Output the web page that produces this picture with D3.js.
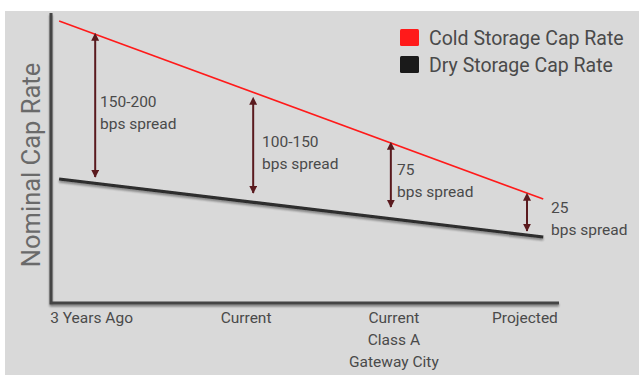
<!DOCTYPE html>
<html>
<head>
<meta charset="utf-8">
<script src="https://cdn.jsdelivr.net/npm/d3@7"></script>
<style>
  html, body { margin: 0; padding: 0; background: #ffffff; }
  svg { display: block; }
  text { font-family: Roboto, "Liberation Sans", Arial, sans-serif; }
</style>
</head>
<body>
<div id="chart"></div>
<script>
// Timeline positions along the x axis (0 = axis origin, 100 = axis end)
const categories = ["3 Years Ago", "Current", "Current\nClass A\nGateway City", "Projected"];
const categoryPos = [8, 38.4, 67.5, 93.3];

// Cap rate lines (%), given at the start and end of the timeline
const lineT = [1.6, 96.9];
const coldRates = [8.84, 5.28];
const dryRates = [5.68, 4.52];

// Spread call-outs: position and the cap-rate span each arrow covers
const spreadPos = [8.7, 39.8, 66.9, 93.7];
const arrowTop = [8.46, 7.18, 6.28, 5.26];
const arrowBottom = [5.72, 5.40, 5.12, 4.64];
const spreadTop = ["150-200", "100-150", "75", "25"];
const spreadBottom = ["bps spread", "bps spread", "bps spread", "bps spread"];

const seriesNames = ["Cold Storage Cap Rate", "Dry Storage Cap Rate"];
const seriesColors = ["#ff1a1a", "#1a1a1a"];

const W = 639, H = 375;
const svg = d3.select("#chart").append("svg").attr("width", W).attr("height", H);

const defs = svg.append("defs");
const shadow = defs.append("filter").attr("id", "shadow")
  .attr("x", "-5%").attr("y", "-50%").attr("width", "110%").attr("height", "300%");
shadow.append("feGaussianBlur").attr("in", "SourceAlpha").attr("stdDeviation", 1.2).attr("result", "b");
shadow.append("feOffset").attr("in", "b").attr("dx", 0).attr("dy", 2).attr("result", "o");
shadow.append("feComponentTransfer").attr("in", "o").attr("result", "s")
  .append("feFuncA").attr("type", "linear").attr("slope", 0.45);
const fm = shadow.append("feMerge");
fm.append("feMergeNode").attr("in", "s");
fm.append("feMergeNode").attr("in", "SourceGraphic");

const arrowColor = "#5a1a1e";
["start", "end"].forEach(k => {
  defs.append("marker").attr("id", "head-" + k)
    .attr("viewBox", "0 0 10 10").attr("refX", k === "end" ? 9 : 1).attr("refY", 5)
    .attr("markerWidth", 4).attr("markerHeight", 4).attr("markerUnits", "strokeWidth")
    .attr("orient", "auto-start-reverse")
    .append("path").attr("d", "M0,0 L10,5 L0,10 z").attr("fill", arrowColor);
});

// Grey panel
svg.append("rect").attr("x", 5).attr("y", 11).attr("width", W - 5).attr("height", H - 11)
  .attr("fill", "#d9d9d9");

const x = d3.scaleLinear().domain([0, 100]).range([51, 559]);
const y = d3.scaleLinear().domain([3.2, 9.0]).range([303, 13]);

// Axes (no ticks)
const axisG = svg.append("g").attr("filter", "url(#shadow)");
axisG.append("path")
  .attr("d", d3.line()([[x(0), y(9.0)], [x(0), y(3.2)], [x(100), y(3.2)]]))
  .attr("fill", "none").attr("stroke", "#444").attr("stroke-width", 3);

// Y axis title
svg.append("text")
  .attr("transform", `translate(${40},${165}) rotate(-90)`)
  .attr("text-anchor", "middle")
  .attr("font-size", 25.5).attr("fill", "#6a6a6a")
  .text("Nominal Cap Rate");

// Category labels
categories.forEach((c, i) => {
  const t = svg.append("text").attr("text-anchor", "middle")
    .attr("font-size", 15.5).attr("fill", "#4a4a4a");
  c.split("\n").forEach((line, j) => {
    t.append("tspan").attr("x", x(categoryPos[i])).attr("y", 323 + j * 22).text(line);
  });
});

// Series lines
const line = d3.line().x(d => x(d[0])).y(d => y(d[1]));
svg.append("path")
  .datum(lineT.map((t, i) => [t, dryRates[i]]))
  .attr("d", line).attr("fill", "none").attr("stroke", seriesColors[1])
  .attr("stroke-width", 3.2).attr("opacity", 0.9).attr("filter", "url(#shadow)");
svg.append("path")
  .datum(lineT.map((t, i) => [t, coldRates[i]]))
  .attr("d", line).attr("fill", "none").attr("stroke", seriesColors[0])
  .attr("stroke-width", 1.6);

// Spread arrows
spreadPos.forEach((t, i) => {
  const px = x(t);
  svg.append("line")
    .attr("x1", px).attr("x2", px).attr("y1", y(arrowTop[i])).attr("y2", y(arrowBottom[i]))
    .attr("stroke", arrowColor).attr("stroke-width", 2)
    .attr("marker-start", "url(#head-start)").attr("marker-end", "url(#head-end)");
});

// Spread labels
const labelX = [100, 262, 397, 551];
const labelY = [107, 147, 175, 213];
spreadPos.forEach((t, i) => {
  const txt = svg.append("text").attr("font-size", 15.5).attr("fill", "#4a4a4a");
  txt.append("tspan").attr("x", labelX[i]).attr("y", labelY[i]).text(spreadTop[i]);
  txt.append("tspan").attr("x", labelX[i]).attr("y", labelY[i] + 22).text(spreadBottom[i]);
});

// Legend
const legend = svg.append("g").attr("transform", "translate(400,29)");
seriesNames.forEach((name, i) => {
  const g = legend.append("g").attr("transform", `translate(0,${i * 27})`);
  g.append("rect").attr("width", 19).attr("height", 17).attr("rx", 1.5)
    .attr("fill", seriesColors[i]);
  g.append("text").attr("x", 29).attr("y", 15.5).attr("font-size", 19.5)
    .attr("fill", "#4a4a4a").text(name);
});
</script>
</body>
</html>
